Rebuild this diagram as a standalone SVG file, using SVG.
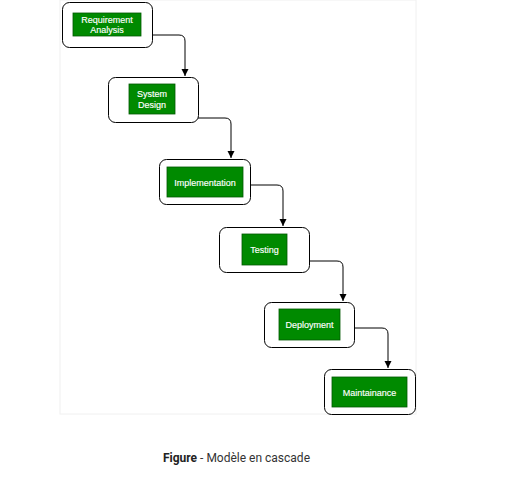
<svg xmlns="http://www.w3.org/2000/svg" width="518" height="488" viewBox="0 0 518 488">
<style>
.outer{fill:#fff;stroke:#000;stroke-width:1}
.inner{fill:#008a00;stroke:#005700;stroke-width:0.8}
.lbl{font-family:"Liberation Sans",Arial,sans-serif;font-size:9px;fill:#fff;text-anchor:middle;stroke:#fff;stroke-width:0.15}
.conn{fill:none;stroke:#000;stroke-width:1}
.cap{font-family:Roboto,"Liberation Sans",sans-serif;font-size:12px;fill:#333}
</style>
<defs>
<marker id="arr" markerWidth="8" markerHeight="8" refX="7" refY="4" orient="auto" markerUnits="userSpaceOnUse">
<path d="M0,0.5 L7,4 L0,7.5 Z" fill="#000"/>
</marker>
</defs>
<rect x="60" y="0" width="356" height="414" fill="#fff" stroke="#f0f0f0" stroke-width="1"/>
<g id="connectors">
<path class="conn" marker-end="url(#arr)" d="M152,35 H179 Q185,35 185,41 V76"/>
<path class="conn" marker-end="url(#arr)" d="M198,118 H225 Q231,118 231,124 V158"/>
<path class="conn" marker-end="url(#arr)" d="M250,185 H277 Q283,185 283,191 V226"/>
<path class="conn" marker-end="url(#arr)" d="M309,261 H337 Q343,261 343,267 V301"/>
<path class="conn" marker-end="url(#arr)" d="M354,328 H382 Q388,328 388,334 V368"/>
</g>
<g id="requirement-analysis">
<rect class="outer" x="62.5" y="2.5" width="90" height="45" rx="7"/>
<rect class="inner" x="73" y="13" width="68" height="23"/>
<text class="lbl" x="107" y="22.5">Requirement</text>
<text class="lbl" x="107" y="32.5">Analysis</text>
</g>
<g id="system-design">
<rect class="outer" x="108.5" y="77.5" width="90" height="45" rx="7"/>
<rect class="inner" x="129" y="84" width="46" height="30"/>
<text class="lbl" x="152" y="97">System</text>
<text class="lbl" x="152" y="108">Design</text>
</g>
<g id="implementation">
<rect class="outer" x="159.5" y="159.5" width="91" height="45" rx="7"/>
<rect class="inner" x="167" y="167" width="76" height="30"/>
<text class="lbl" x="205" y="185.5">Implementation</text>
</g>
<g id="testing">
<rect class="outer" x="219.5" y="227.5" width="90" height="45" rx="7"/>
<rect class="inner" x="242" y="234" width="45" height="31"/>
<text class="lbl" x="264.5" y="253">Testing</text>
</g>
<g id="deployment">
<rect class="outer" x="264.5" y="302.5" width="90" height="45" rx="7"/>
<rect class="inner" x="279" y="309" width="61" height="31"/>
<text class="lbl" x="309.5" y="328">Deployment</text>
</g>
<g id="maintainance">
<rect class="outer" x="324.5" y="369.5" width="91" height="45" rx="7"/>
<rect class="inner" x="332" y="377" width="75" height="30"/>
<text class="lbl" x="369.5" y="395.5">Maintainance</text>
</g>
<text class="cap" x="163" y="462"><tspan font-weight="bold" fill="#222">Figure</tspan> - Modèle en cascade</text>
</svg>
